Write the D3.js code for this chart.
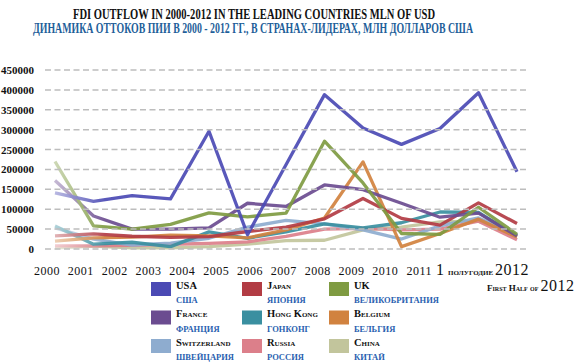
<!DOCTYPE html>
<html>
<head>
<meta charset="utf-8">
<script src="https://cdn.jsdelivr.net/npm/d3@7"></script>
<style>
  body { margin: 0; background: #fff; }
  svg { display: block; }
  .serif { font-family: "Liberation Serif", serif; }
</style>
</head>
<body>
<svg id="chart" width="581" height="363"></svg>
<script>
// FDI outflow, mln USD
var years = ["2000","2001","2002","2003","2004","2005","2006","2007","2008","2009","2010","2011","2012H1"];
var yearLabels = ["2000","2001","2002","2003","2004","2005","2006","2007","2008","2009","2010","2011","2012"];
var yTicks = [0,50000,100000,150000,200000,250000,300000,350000,400000,450000];

var usa         = [141000,120000,134000,126000,296000,36000,212000,388000,304000,263000,303000,393000,194000];
var japan       = [33000,38000,32000,29000,31000,44000,55000,76000,127000,77000,60000,116000,64000];
var uk          = [220000,58000,50000,62000,91000,81000,90000,271000,166000,39000,37000,105000,37000];
var france      = [172000,83000,50000,50000,53000,115000,107000,161000,149000,115000,80000,90000,33000];
var hongKong    = [58000,12000,17000,6000,43000,27000,43000,63000,53000,66000,93000,92000,32000];
var belgium     = [20000,28000,30000,35000,33000,28000,48000,78000,219000,6000,39000,75000,30000];
var switzerland = [53000,25000,10000,15000,27000,55000,72000,63000,48000,25000,58000,78000,35000];
var russia      = [8000,8000,9000,12000,14000,18000,32000,50000,52000,48000,50000,70000,23000];
var china       = [3000,7000,3000,3000,6000,12000,21000,22000,48000,55000,68000,70000,35000];

var namesEn = ["USA","France","Switzerland","Japan","Hong Kong","Russia","UK","Belgium","China"];
var namesRu = ["США","Франция","Швейцария","Япония","Гонконг","Россия","Великобритания","Бельгия","Китай"];
var seriesValues = [usa, france, switzerland, japan, hongKong, russia, uk, belgium, china];
var seriesColors = ["#4b4ab4","#6b4c90","#8eaccf","#b23c44","#3a8fa0","#dc7f8a","#7f9b42","#d1823f","#c2c59c"];

var svg = d3.select("#chart");

// titles
svg.append("text").attr("class", "serif")
  .attr("x", 73).attr("y", 18.5)
  .attr("textLength", 362).attr("lengthAdjust", "spacingAndGlyphs")
  .style("font-size", "14px").style("font-weight", "bold").attr("fill", "#111")
  .text("FDI OUTFLOW IN 2000-2012 IN THE LEADING COUNTRIES MLN OF USD");
svg.append("text").attr("class", "serif")
  .attr("x", 33).attr("y", 33)
  .attr("textLength", 440).attr("lengthAdjust", "spacingAndGlyphs")
  .style("font-size", "14px").style("font-weight", "bold").attr("fill", "#1f5f9a")
  .text("ДИНАМИКА ОТТОКОВ ПИИ В 2000 - 2012 ГГ., В СТРАНАХ-ЛИДЕРАХ, МЛН ДОЛЛАРОВ США");

var x = d3.scalePoint().domain(years).range([55, 517]);
var xLab = d3.scalePoint().domain(yearLabels).range([47, 453]);
var y = d3.scaleLinear().domain([0, 450000]).range([249, 70]);

// y labels
svg.append("g").selectAll("text")
  .data(yTicks)
  .enter()
  .append("text")
    .attr("class", "serif")
    .attr("x", 34)
    .attr("y", function(d) { return y(d) + 4; })
    .attr("text-anchor", "end")
    .attr("textLength", function(d) { return String(d).length * 5.5; })
    .attr("lengthAdjust", "spacingAndGlyphs")
    .style("font-size", "11px").style("font-weight", "bold")
    .attr("fill", "#111")
    .text(function(d) { return d; });

// lines
var line = d3.line()
  .x(function(d, i) { return x(years[i]); })
  .y(function(d) { return y(d); });

var order = [8, 5, 2, 4, 7, 3, 1, 6, 0];
svg.append("g").selectAll("path")
  .data(order)
  .enter()
  .append("path")
    .attr("d", function(k) { return line(seriesValues[k]); })
    .attr("fill", "none")
    .attr("stroke", function(k) { return seriesColors[k]; })
    .attr("stroke-width", 3.3)
    .attr("stroke-linejoin", "round")
    .attr("opacity", 0.92);

// faded left edge
var grad = svg.append("defs").append("linearGradient")
  .attr("id", "fade").attr("x1", "0").attr("x2", "1").attr("y1", "0").attr("y2", "0");
grad.append("stop").attr("offset", "0").attr("stop-color", "#fff").attr("stop-opacity", 0.75);
grad.append("stop").attr("offset", "1").attr("stop-color", "#fff").attr("stop-opacity", 0);
svg.append("rect")
  .attr("x", 40).attr("y", 60).attr("width", 65).attr("height", 195)
  .attr("fill", "url(#fade)");

// dashed grid on top
svg.append("g").selectAll("line")
  .data(yTicks)
  .enter()
  .append("line")
    .attr("x1", 45).attr("x2", 528)
    .attr("y1", function(d) { return y(d); })
    .attr("y2", function(d) { return y(d); })
    .attr("stroke", "#bdbdbd")
    .attr("stroke-width", 1.5)
    .attr("stroke-dasharray", "6,3.5");

// x labels
svg.append("g").selectAll("text")
  .data(yearLabels.slice(0, 12))
  .enter()
  .append("text")
    .attr("class", "serif")
    .attr("x", function(d) { return xLab(d); })
    .attr("y", 275)
    .attr("text-anchor", "middle")
    .style("font-size", "12px")
    .style("letter-spacing", "0.5px")
    .attr("fill", "#111")
    .text(function(d) { return d; });

var last = svg.append("text").attr("class", "serif")
  .attr("x", 436).attr("y", 275).attr("fill", "#111");
last.append("tspan").style("font-size", "16px").text("1 ");
last.append("tspan").style("font-size", "7px").style("font-weight", "bold").text("ПОЛУГОДИЕ ");
last.append("tspan").style("font-size", "16px").style("letter-spacing", "0.5px").text(yearLabels[12]);

var half = svg.append("text").attr("class", "serif")
  .attr("x", 487).attr("y", 291).attr("fill", "#111");
half.append("tspan").style("font-size", "9px").style("font-weight", "bold")
  .style("font-variant", "small-caps").text("First Half of ");
half.append("tspan").style("font-size", "16px").style("letter-spacing", "0.5px").text(yearLabels[12]);

// legend
var legend = svg.append("g").selectAll("g")
  .data(namesEn)
  .enter()
  .append("g")
    .attr("transform", function(d, i) {
      var col = Math.floor(i / 3), row = i % 3;
      return "translate(" + [151, 242, 329][col] + "," + (282 + row * 28.5) + ")";
    });

legend.append("rect")
  .attr("width", 20).attr("height", 14)
  .attr("fill", function(d, i) { return seriesColors[i]; });

legend.append("text")
  .attr("class", "serif")
  .attr("x", 25).attr("y", 6.5)
  .style("font-size", "10.5px").style("font-weight", "bold")
  .style("font-variant", "small-caps")
  .attr("fill", "#111")
  .text(function(d) { return d; });

legend.append("text")
  .attr("class", "serif")
  .attr("x", 25).attr("y", 21)
  .style("font-size", "8.5px").style("font-weight", "bold")
  .attr("fill", "#2a5fb0")
  .text(function(d, i) { return namesRu[i].toUpperCase(); });
</script>
</body>
</html>
